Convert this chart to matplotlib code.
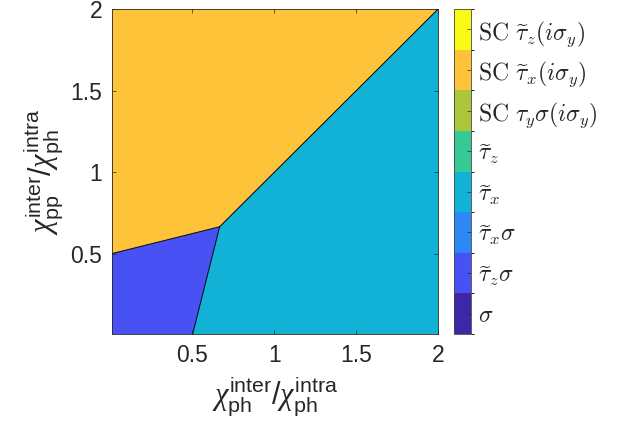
import numpy as np
import matplotlib
matplotlib.use("Agg")
import matplotlib.pyplot as plt
from matplotlib.colors import ListedColormap, BoundaryNorm
from matplotlib.cm import ScalarMappable

plt.rcParams['font.family'] = ['Liberation Sans', 'DejaVu Sans']
plt.rcParams['mathtext.fontset'] = 'custom'
plt.rcParams['mathtext.rm'] = 'Liberation Sans'
plt.rcParams['mathtext.it'] = 'Liberation Serif:italic'

# phase labels, bottom to top of the colorbar
phase_labels = [
    r'$\sigma$',
    r'$\widetilde{\tau}_z\sigma$',
    r'$\widetilde{\tau}_x\sigma$',
    r'$\widetilde{\tau}_x$',
    r'$\widetilde{\tau}_z$',
    r'$\mathrm{SC}\ \tau_y\sigma(i\sigma_y)$',
    r'$\mathrm{SC}\ \widetilde{\tau}_x(i\sigma_y)$',
    r'$\mathrm{SC}\ \widetilde{\tau}_z(i\sigma_y)$',
]
# parula(8)
phase_colors = [
    (0.2422, 0.1504, 0.6603),
    (0.2810, 0.3228, 0.9579),
    (0.1786, 0.5289, 0.9682),
    (0.0689, 0.6948, 0.8394),
    (0.2161, 0.7843, 0.5923),
    (0.6720, 0.7793, 0.2227),
    (0.9970, 0.7659, 0.2199),
    (0.9769, 0.9839, 0.0805),
]

# region outlines (x = chi_ph ratio, y = chi_pp ratio)
triple = (0.667, 0.667)
blue_x = [0.0, 0.0, triple[0], 0.5]
blue_y = [0.0, 0.5, triple[1], 0.0]
orange_x = [0.0, 0.0, triple[0], 2.0]
orange_y = [2.0, 0.5, triple[1], 2.0]
cyan_x = [0.5, triple[0], 2.0, 2.0]
cyan_y = [0.0, triple[1], 2.0, 0.0]
regions = [(blue_x, blue_y, 1), (orange_x, orange_y, 6), (cyan_x, cyan_y, 3)]

# phase boundaries
bounds = [
    ([0.0, triple[0]], [0.5, triple[1]]),
    ([0.5, triple[0]], [0.0, triple[1]]),
    ([triple[0], 2.0], [triple[1], 2.0]),
]

xticks = [0.5, 1, 1.5, 2]
yticks = [0.5, 1, 1.5, 2]

fig = plt.figure(figsize=(6.25, 4.36), dpi=100)
ax = fig.add_axes([0.1792, 0.234, 0.5216, 0.745])

for xs, ys, k in regions:
    ax.fill(xs, ys, color=phase_colors[k], lw=0)
for xs, ys in bounds:
    ax.plot(xs, ys, color='k', lw=0.7)

ax.set_xlim(0.01, 2)
ax.set_ylim(0.01, 2)
ax.set_xticks(xticks)
ax.set_xticklabels(['0.5', '1', '1.5', '2'])
ax.set_yticks(yticks)
ax.set_yticklabels(['0.5', '1', '1.5', '2'])
ax.tick_params(direction='in', length=3, width=0.5, colors='#262626',
               labelsize=16.5, top=True, right=True, pad=7)
for s in ax.spines.values():
    s.set_color('#262626')
    s.set_linewidth(0.6)

ax.set_xlabel(r'$\chi^{\mathrm{inter}}_{\mathrm{ph}}/\chi^{\mathrm{intra}}_{\mathrm{ph}}$',
              fontsize=22, color='#262626', labelpad=6)
ax.set_ylabel(r'$\chi^{\mathrm{inter}}_{\mathrm{pp}}/\chi^{\mathrm{intra}}_{\mathrm{ph}}$',
              fontsize=22, color='#262626', labelpad=4)

cax = fig.add_axes([0.7264, 0.234, 0.0272, 0.745])
cmap = ListedColormap(phase_colors)
norm = BoundaryNorm(np.arange(-0.5, len(phase_colors) + 0.5), cmap.N)
cb = fig.colorbar(ScalarMappable(norm=norm, cmap=cmap), cax=cax,
                  ticks=np.arange(len(phase_colors)))
cb.ax.set_yticklabels(phase_labels)
for t in cb.ax.get_yticklabels():
    t.set_math_fontfamily('cm')
    t.set_fontsize(17)
cb.ax.tick_params(direction='in', length=3, width=0.5, colors='#262626', pad=5)
cb.outline.set_edgecolor('#444444')
cb.outline.set_linewidth(0.6)

fig.savefig('out.png', dpi=100)
